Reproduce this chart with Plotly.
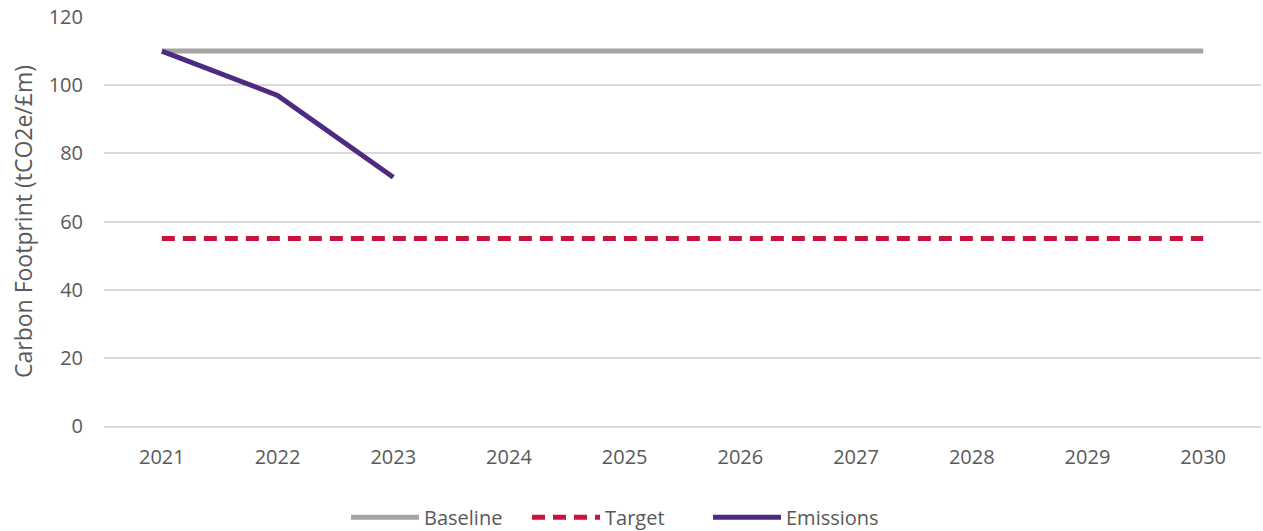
import plotly.graph_objects as go

years = ["2021", "2022", "2023", "2024", "2025", "2026", "2027", "2028", "2029", "2030"]
baseline = [110, 110, 110, 110, 110, 110, 110, 110, 110, 110]
target = [55, 55, 55, 55, 55, 55, 55, 55, 55, 55]
emissions_years = ["2021", "2022", "2023"]
emissions = [110, 97, 73]

FONT = "Open Sans"
TXT = "#595959"

fig = go.Figure()
fig.add_trace(go.Scatter(x=years, y=baseline, name="Baseline", mode="lines",
                         line=dict(color="#A5A5A5", width=5)))
fig.add_trace(go.Scatter(x=years, y=target, name="Target", mode="lines",
                         line=dict(color="#C8143C", width=5, dash="13px,8px")))
fig.add_trace(go.Scatter(x=emissions_years, y=emissions, name="Emissions", mode="lines",
                         line=dict(color="#4E2A80", width=5)))

fig.update_layout(
    width=1263, height=531,
    margin=dict(l=104, r=2, t=17, b=105, autoexpand=False),
    paper_bgcolor="white", plot_bgcolor="white",
    font=dict(family=FONT, size=20, color=TXT),
    showlegend=True,
    legend=dict(orientation="h", xref="container", x=(350 - 4) / 1263, xanchor="left",
                yref="container", y=0.026, yanchor="middle",
                font=dict(family=FONT, size=20, color=TXT), itemwidth=68,
                entrywidth=98, entrywidthmode="pixels",
                tracegroupgap=0),
    hovermode=False,
)
fig.update_xaxes(type="category", categoryorder="array", categoryarray=years,
                 range=[-0.5, 9.5], showgrid=False, showline=True,
                 linecolor="#D9D9D9", linewidth=2, ticks="", ticklabelstandoff=12,
                 tickfont=dict(family=FONT, size=20, color=TXT))
fig.update_yaxes(range=[0, 120], dtick=20, showgrid=True, gridcolor="#D9D9D9",
                 gridwidth=1.5, zeroline=False, showline=False, ticks="",
                 ticklabelstandoff=20,
                 title=dict(text="Carbon Footprint (tCO2e/£m)", standoff=9,
                            font=dict(family=FONT, size=23, color=TXT)),
                 tickfont=dict(family=FONT, size=20, color=TXT))

fig.write_html("out.html")
